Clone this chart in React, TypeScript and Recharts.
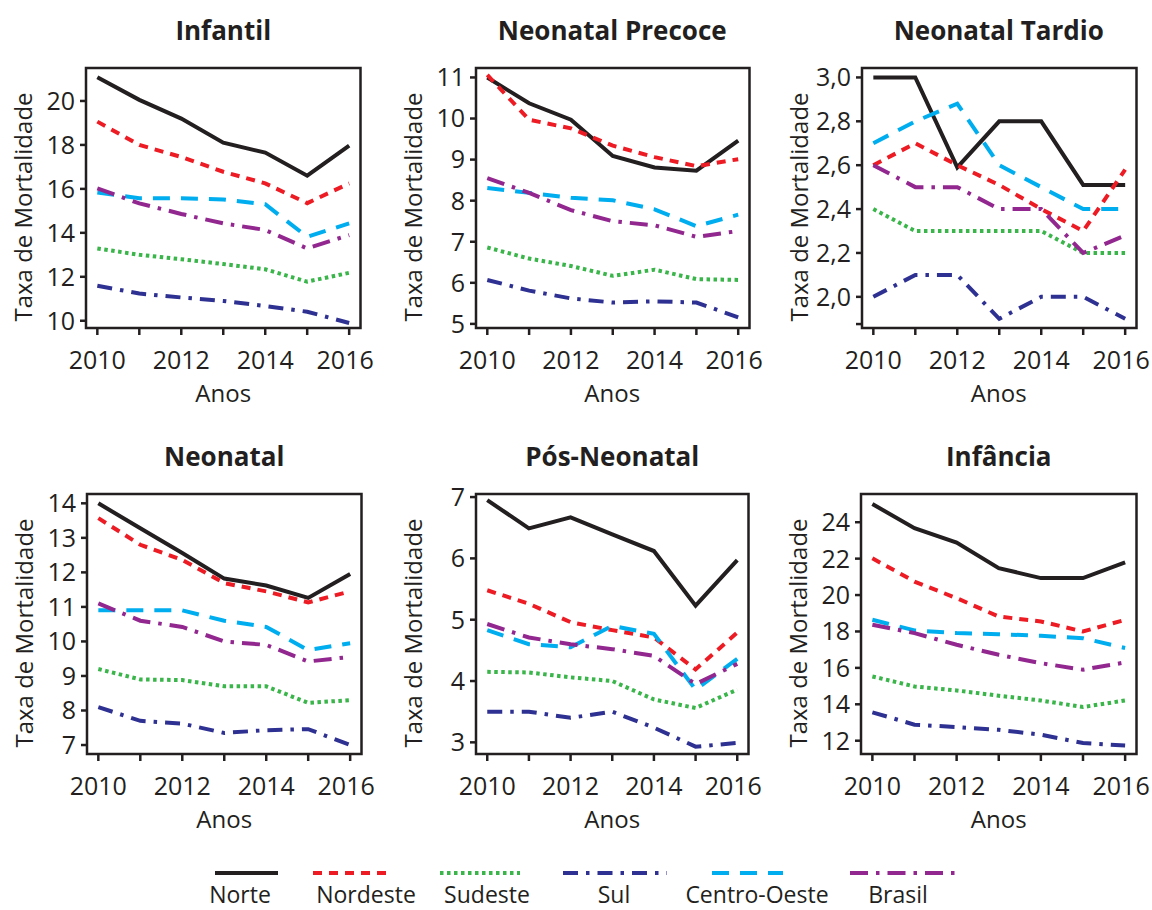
import { LineChart, Line, XAxis, YAxis, ReferenceArea } from "recharts";

const years = [2010, 2011, 2012, 2013, 2014, 2015, 2016];
const xTicks = [2010, 2011, 2012, 2013, 2014, 2015, 2016];
const xDomain: [number, number] = [2009.73, 2016.27];

const seriesNames = ["Norte", "Nordeste", "Sudeste", "Sul", "Centro-Oeste", "Brasil"];
const seriesColors = ["#231f20", "#ed1c24", "#39b54a", "#2e3192", "#00aeef", "#92278f"];
const seriesDash = ["", "9 7", "3.5 3.5", "15 8 3.5 8", "17 11", "18 8 3.5 8"];

// rows follow seriesNames order
const infantil = [
  [21.08, 20.05, 19.2, 18.1, 17.65, 16.6, 17.97],
  [19.06, 18.0, 17.45, 16.78, 16.25, 15.35, 16.25],
  [13.29, 13.0, 12.8, 12.58, 12.34, 11.78, 12.18],
  [11.59, 11.24, 11.06, 10.9, 10.67, 10.41, 9.9],
  [15.84, 15.57, 15.57, 15.52, 15.3, 13.82, 14.43],
  [16.02, 15.34, 14.86, 14.43, 14.13, 13.29, 13.9],
];
const neonatalPrecoce = [
  [11.0, 10.37, 9.97, 9.09, 8.81, 8.73, 9.46],
  [11.06, 9.97, 9.76, 9.34, 9.06, 8.84, 9.01],
  [6.86, 6.59, 6.41, 6.17, 6.32, 6.09, 6.07],
  [6.07, 5.81, 5.62, 5.52, 5.55, 5.52, 5.16],
  [8.31, 8.19, 8.07, 8.01, 7.79, 7.38, 7.66],
  [8.55, 8.19, 7.77, 7.5, 7.4, 7.12, 7.26],
];
const neonatalTardio = [
  [3.0, 3.0, 2.59, 2.8, 2.8, 2.51, 2.51],
  [2.6, 2.7, 2.6, 2.51, 2.4, 2.3, 2.58],
  [2.4, 2.3, 2.3, 2.3, 2.3, 2.2, 2.2],
  [2.0, 2.1, 2.1, 1.9, 2.0, 2.0, 1.9],
  [2.7, 2.8, 2.88, 2.6, 2.5, 2.4, 2.4],
  [2.6, 2.5, 2.5, 2.4, 2.4, 2.2, 2.28],
];
const neonatal = [
  [14.0, 13.28, 12.56, 11.82, 11.62, 11.26, 11.95],
  [13.57, 12.8, 12.36, 11.69, 11.45, 11.13, 11.45],
  [9.2, 8.9, 8.88, 8.7, 8.7, 8.22, 8.3],
  [8.1, 7.7, 7.62, 7.35, 7.43, 7.46, 7.0],
  [10.9, 10.9, 10.9, 10.6, 10.42, 9.75, 9.95],
  [11.1, 10.6, 10.42, 10.0, 9.9, 9.42, 9.55],
];
const posNeonatal = [
  [6.95, 6.49, 6.67, 6.39, 6.12, 5.23, 5.97],
  [5.48, 5.26, 4.96, 4.83, 4.71, 4.19, 4.79],
  [4.15, 4.14, 4.06, 4.0, 3.7, 3.56, 3.86],
  [3.5, 3.5, 3.4, 3.5, 3.24, 2.93, 2.99],
  [4.83, 4.6, 4.55, 4.9, 4.77, 3.86, 4.36],
  [4.93, 4.71, 4.6, 4.52, 4.41, 3.95, 4.28],
];
const infancia = [
  [25.0, 23.67, 22.88, 21.48, 20.93, 20.93, 21.79],
  [22.02, 20.74, 19.83, 18.82, 18.55, 18.0, 18.64],
  [15.53, 14.98, 14.76, 14.47, 14.21, 13.85, 14.21],
  [13.56, 12.88, 12.75, 12.6, 12.33, 11.87, 11.74],
  [18.64, 18.06, 17.91, 17.85, 17.76, 17.63, 17.09],
  [18.37, 17.91, 17.27, 16.72, 16.26, 15.9, 16.3],
];

const panels = [
  { title: "Infantil", values: infantil, yDomain: [9.67, 21.5], yTicks: [10, 12, 14, 16, 18, 20], comma: false, box: [86, 360.5, 68, 328] },
  { title: "Neonatal Precoce", values: neonatalPrecoce, yDomain: [4.9, 11.23], yTicks: [5, 6, 7, 8, 9, 10, 11], comma: false, box: [475.5, 749, 68, 328] },
  { title: "Neonatal Tardio", values: neonatalTardio, yDomain: [1.858, 3.043], yTicks: [1.876, 2.0, 2.2, 2.4, 2.6, 2.8, 3.0], comma: true, box: [861.5, 1136, 68, 328] },
  { title: "Neonatal", values: neonatal, yDomain: [6.74, 14.27], yTicks: [7, 8, 9, 10, 11, 12, 13, 14], comma: false, box: [87, 361.5, 494, 754] },
  { title: "Pós-Neonatal", values: posNeonatal, yDomain: [2.81, 7.05], yTicks: [3, 4, 5, 6, 7], comma: false, box: [476, 748.5, 494, 754] },
  { title: "Infância", values: infancia, yDomain: [11.27, 25.55], yTicks: [12, 14, 16, 18, 20, 22, 24], comma: false, box: [861, 1136.5, 494, 754] },
];

const legendLines = [
  [215, 278], [313, 388], [440, 520], [563, 667], [712, 783], [850, 957],
];
const legendText = [240, 366, 487, 614, 757, 898];

const INK = "#231f20";
const FONT = "'Open Sans', sans-serif";
const AXIS_W = 86;
const PAD_T = 22;
const PAD_R = 40;
const XAXIS_H = 60;

const toRows = (values: number[][]) =>
  years.map((year, i) => {
    const row: Record<string, number> = { year };
    seriesNames.forEach((name, k) => {
      row[name] = values[k][i];
    });
    return row;
  });

// year labels only on even years; the last one sits a little to the left, as in the source
const YearTick = (props: any) => {
  const { x, y, payload } = props;
  const v = payload.value as number;
  if (v % 2 !== 0) return null;
  return (
    <text x={x + (v === 2016 ? -4 : 0)} y={y} dy="0.71em" textAnchor="middle" fill={INK} fontSize={25} fontFamily={FONT}>
      {v}
    </text>
  );
};

function Panel({ p }: { p: (typeof panels)[number] }) {
  const [x0, x1, y0, y1] = p.box;
  const bw = x1 - x0;
  const bh = y1 - y0;
  const data = toRows(p.values);
  const yDomain = p.yDomain as [number, number];
  const fmtY = (v: number) => {
    if (p.comma) return v < 1.9 ? "" : v.toFixed(1).replace(".", ",");
    return String(v);
  };
  return (
    <>
      <div
        style={{
          position: "absolute", left: (x0 + x1) / 2, top: y0 - 38,
          transform: "translate(-50%, -50%)", whiteSpace: "nowrap",
          fontFamily: FONT, fontWeight: 700, fontSize: 26, color: INK,
        }}
      >
        {p.title}
      </div>
      <div
        style={{
          position: "absolute", left: x0 - 64, top: (y0 + y1) / 2 + 9,
          transform: "translate(-50%, -50%) rotate(-90deg)", whiteSpace: "nowrap",
          fontFamily: FONT, fontSize: 24, color: INK,
        }}
      >
        Taxa de Mortalidade
      </div>
      <div
        style={{
          position: "absolute", left: (x0 + x1) / 2, top: y1 + 64,
          transform: "translate(-50%, -50%)", whiteSpace: "nowrap",
          fontFamily: FONT, fontSize: 24, color: INK,
        }}
      >
        Anos
      </div>
      <div style={{ position: "absolute", left: x0 - AXIS_W, top: y0 - PAD_T }}>
        <LineChart
          width={AXIS_W + bw + PAD_R}
          height={PAD_T + bh + XAXIS_H}
          data={data}
          margin={{ top: PAD_T, right: PAD_R, bottom: 0, left: 0 }}
        >
          <XAxis
            dataKey="year"
            type="number"
            domain={xDomain}
            ticks={xTicks}
            interval={0}
            allowDataOverflow
            height={XAXIS_H}
            axisLine={false}
            tickLine={{ stroke: INK, strokeWidth: 2.5 }}
            tickSize={7}
            tickMargin={16}
            tick={<YearTick />}
          />
          <YAxis
            type="number"
            domain={yDomain}
            ticks={p.yTicks}
            interval={0}
            allowDataOverflow
            width={AXIS_W}
            axisLine={false}
            tickLine={{ stroke: INK, strokeWidth: 2.5 }}
            tickSize={6}
            tickMargin={5}
            tickFormatter={fmtY}
            tick={{ fill: INK, fontSize: 25, fontFamily: FONT }}
          />
          {seriesNames.map((name, k) => (
            <Line
              key={name}
              type="linear"
              dataKey={name}
              name={name}
              stroke={seriesColors[k]}
              strokeWidth={4}
              strokeDasharray={seriesDash[k] || undefined}
              dot={false}
              activeDot={false}
              isAnimationActive={false}
            />
          ))}
          <ReferenceArea
            x1={xDomain[0]}
            x2={xDomain[1]}
            y1={yDomain[0]}
            y2={yDomain[1]}
            fill="none"
            fillOpacity={0}
            stroke={INK}
            strokeWidth={2.5}
            ifOverflow="visible"
          />
        </LineChart>
      </div>
    </>
  );
}

function Legend() {
  return (
    <svg width={1152} height={70} style={{ position: "absolute", left: 0, top: 845 }}>
      {seriesNames.map((name, k) => (
        <g key={name}>
          <line
            x1={legendLines[k][0]}
            x2={legendLines[k][1]}
            y1={28}
            y2={28}
            stroke={seriesColors[k]}
            strokeWidth={4}
            strokeDasharray={seriesDash[k] || undefined}
          />
          <text
            x={legendText[k]}
            y={52}
            textAnchor="middle"
            dominantBaseline="middle"
            fontFamily={FONT}
            fontSize={23}
            fill={INK}
          >
            {name}
          </text>
        </g>
      ))}
    </svg>
  );
}

export default function App() {
  return (
    <div style={{ position: "absolute", left: 0, top: 0, width: 1152, height: 910, background: "#fff", overflow: "hidden" }}>
      {panels.map((p) => (
        <Panel key={p.title} p={p} />
      ))}
      <Legend />
    </div>
  );
}
